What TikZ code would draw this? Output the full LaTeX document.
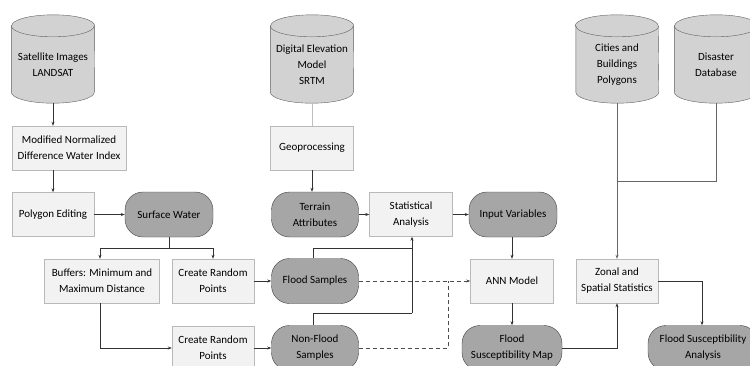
\documentclass[tikz,border=0pt]{standalone}
\usepackage{fontspec}
\setmainfont{Carlito}
\usetikzlibrary{positioning}
\usetikzlibrary{backgrounds}
\usetikzlibrary{arrows.meta}

\begin{document}
\begin{tikzpicture}[x=1pt, y=-1pt,
                          font=\fontsize{11}{16}\selectfont,
                          dbnode/.style={rectangle, minimum width=83pt, minimum height=55pt, align=center, inner sep=1pt},
                          dbshape/.style={fill=gray!35, draw=gray!75!black},
                          boxnode/.style={rectangle, draw=gray!55, fill=gray!10, minimum width=83pt, minimum height=44pt, align=center, inner sep=1pt},
                          roundnode/.style={rectangle, rounded corners=18pt, draw=black!75, fill=gray!70, minimum width=88pt, minimum height=45pt, align=center, inner sep=1pt},
                          flow/.style={-{Stealth[length=4pt, width=3pt]}, draw=black!80, semithick},
                          plain/.style={draw=black!80, semithick},
                          feed/.style={draw=gray!50, semithick},
                          dashedflow/.style={-{Stealth[length=4pt, width=3pt]}, draw=black!70, semithick, dash pattern=on 4pt off 3pt},
                      ]
                      \useasboundingbox (0,0) rectangle (750,365);
                      %Nodes
                      \node[dbnode]                    (sat)      at (53,64.5)   {Satellite Images\\LANDSAT};
                      \node[boxnode, minimum width=114pt] (ndwi)  at (69,148)    {Modified Normalized\\Difference Water Index};
                      \node[boxnode, minimum width=82pt]  (poly)  at (53,214.5)  {Polygon Editing};
                      \node[roundnode]                 (surf)     at (169,214.5) {Surface Water};
                      \node[boxnode, minimum width=115pt] (buf)   at (102,281)   {Buffers: Minimum and\\Maximum Distance};
                      \node[boxnode, minimum width=82pt]  (crp_1) at (213,281)   {Create Random\\Points};
                      \node[boxnode, minimum width=82pt]  (crp_2) at (213,348)   {Create Random\\Points};

                      \node[dbnode]                    (dem)      at (312,64.5)  {Digital Elevation\\Model\\SRTM};
                      \node[boxnode]                   (geo)      at (312,148)   {Geoprocessing};
                      \node[roundnode, minimum width=87pt] (terr) at (315,214.5) {Terrain\\Attributes};
                      \node[boxnode]                   (stat)     at (411,214.5) {Statistical\\Analysis};
                      \node[roundnode, minimum width=87pt] (flood) at (315,281)  {Flood Samples};
                      \node[roundnode, minimum width=87pt] (nonflood) at (315,348) {Non-Flood\\Samples};

                      \node[roundnode]                 (input)    at (513,214.5) {Input Variables};
                      \node[boxnode]                   (ann)      at (512,281)   {ANN Model};
                      \node[roundnode, minimum width=100pt] (fsm) at (512,348)   {Flood\\Susceptibility Map};

                      \node[dbnode, minimum width=82pt] (cities)  at (617,64.5)  {Cities and\\Buildings\\Polygons};
                      \node[dbnode]                    (disaster) at (716,64.5)  {Disaster\\Database};
                      \node[boxnode, minimum width=82pt]  (zonal) at (617,281)   {Zonal and\\Spatial Statistics};
                      \node[roundnode, minimum width=110pt] (fsa) at (703,348)   {Flood Susceptibility\\Analysis};

                      %Databases
                      \begin{scope}[on background layer]
                        \foreach \db in {sat,dem,cities,disaster} {
                          \path[dbshape] ([yshift=11pt]\db.north west) -- (\db.south west)
                            arc[start angle=180, end angle=360, x radius=41.5pt, y radius=11pt]
                            -- ([yshift=11pt]\db.north east)
                            arc[start angle=0, end angle=180, x radius=41.5pt, y radius=11pt] -- cycle;
                          \draw[dbshape, fill=none] ([yshift=11pt]\db.north west)
                            arc[start angle=180, end angle=360, x radius=41.5pt, y radius=11pt];
                          \coordinate (\db_base) at ([yshift=-11pt]\db.south);
                        }
                      \end{scope}

                      %Junctions
                      \coordinate (split)  at (169,248);
                      \coordinate (join)   at (412,313);
                      \coordinate (merge)  at (617,181);
                      \coordinate (dashjoin) at (448,281);

                      %Lines
                      \draw[flow] (sat_base) -- (sat_base |- ndwi.north);
                      \draw[flow] (ndwi.south -| poly.north) -- (poly.north);
                      \draw[flow] (poly.east) -- (surf.west);
                      \draw[plain] (surf.south) -- (split);
                      \draw[flow] (split) -| ([xshift=-2pt]buf.north);
                      \draw[flow] (split) -| (crp_1.north);
                      \draw[flow] ([xshift=-2pt]buf.south) |- (crp_2.west);
                      \draw[flow] (crp_1.east) -- (flood.west);
                      \draw[flow] (crp_2.east) -- (nonflood.west);

                      \draw[feed] (dem_base) -- (geo.north);
                      \draw[flow] (geo.south) -- (geo.south |- terr.north);
                      \draw[flow] (terr.east) -- (stat.west);
                      \draw[flow] (stat.east) -- (input.west);
                      \draw[plain] ([xshift=-2pt]flood.north) |- (join |- split);
                      \draw[plain] ([xshift=-2pt]nonflood.north) |- (join);
                      \draw[flow] (join) -- (join |- stat.south);
                      \draw[dashedflow] (flood.east) -- (ann.west);
                      \draw[dashedflow, -] (nonflood.east) -| (dashjoin);

                      \draw[flow] (input.south -| ann.north) -- (ann.north);
                      \draw[flow] (ann.south) -- (fsm.north);
                      \draw[flow] (fsm.east) -| (zonal.south);

                      \draw[flow, draw=black!60] (cities_base) -- (zonal.north);
                      \draw[plain, draw=black!60] (disaster_base) |- (merge);
                      \draw[flow] (zonal.east) -| (fsa.north -| 702,0);
\end{tikzpicture}
\end{document}
